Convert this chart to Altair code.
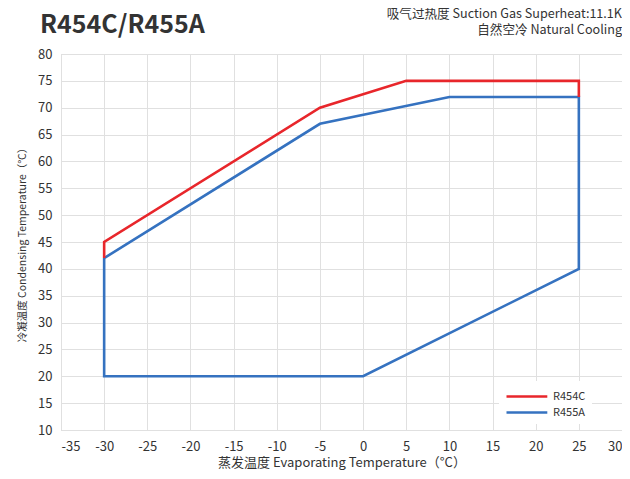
import altair as alt
import pandas as pd

series_names = ["R454C", "R455A"]
colors = ["#e8262b", "#3572c0"]

r454c_x = [-30, -30, -5, 5, 25, 25]
r454c_y = [42, 45, 70, 75, 75, 72]

r455a_x = [-30, -5, 10, 25, 25, 0, -30, -30]
r455a_y = [42, 67, 72, 72, 40, 20, 20, 42]

x_ticks = list(range(-35, 31, 5))
y_ticks = list(range(10, 81, 5))

main_title = "R454C/R455A"
note_lines = ["吸气过热度 Suction Gas Superheat:11.1K", "自然空冷  Natural Cooling"]

rows = []
for i, (x, y) in enumerate(zip(r455a_x, r455a_y)):
    rows.append({"series": "R455A", "x": x, "y": y, "o": i})
for i, (x, y) in enumerate(zip(r454c_x, r454c_y)):
    rows.append({"series": "R454C", "x": x, "y": y, "o": i})
df = pd.DataFrame(rows)

FONT = "Noto Sans CJK SC"

lines = alt.Chart(df).mark_line(strokeWidth=2.6, strokeJoin="miter").encode(
    x=alt.X("x:Q", scale=alt.Scale(domain=[-35, 30], nice=False),
            axis=alt.Axis(values=x_ticks, title="蒸发温度 Evaporating Temperature（°C）",
                          grid=True, domain=False, ticks=False, labelPadding=10,
                          labelExpr="datum.value + ''", titlePadding=3, titleFontSize=13)),
    y=alt.Y("y:Q", scale=alt.Scale(domain=[10, 80], nice=False),
            axis=alt.Axis(values=y_ticks, title="冷凝温度 Condensing Temperature（°C）",
                          grid=True, domain=False, ticks=False, labelPadding=9,
                          labelExpr="datum.value + ''",
                          titlePadding=10, titleFontSize=10.5)),
    color=alt.Color("series:N", scale=alt.Scale(domain=series_names, range=colors),
                    legend=alt.Legend(title=None, orient="none", legendX=438, legendY=327,
                                      symbolType="M-1,0H4.1", symbolSize=256, symbolStrokeWidth=2.5,
                                      fillColor="white", padding=6, labelFontSize=11,
                                      labelOffset=29, labelColor="#333", labelFont=FONT,
                                      rowPadding=1)),
    order="o:Q",
    detail="series:N",
)

note = alt.Chart(pd.DataFrame({"t": [note_lines]})).mark_text(
    align="right", baseline="top", fontSize=12.6, font=FONT, color="#333", lineHeight=16
).encode(text="t", x=alt.value(561), y=alt.value(-46))

title = alt.Chart(pd.DataFrame({"t": [main_title]})).mark_text(
    align="left", baseline="alphabetic", fontSize=25, fontWeight="bold", font=FONT, color="#333"
).encode(text="t", x=alt.value(-21), y=alt.value(-21))

chart = alt.layer(lines, note, title).properties(
    width=561, height=376,
    autosize=alt.AutoSizeParams(type="none"),
    padding={"left": 53, "top": 46, "right": 0, "bottom": 41},
).configure_view(stroke="#cccccc", strokeWidth=1).configure_axis(
    gridColor="#e0e0e0", gridWidth=1, labelFontSize=13, labelColor="#333",
    labelFont=FONT, titleFont=FONT, titleColor="#333", titleFontWeight="normal",
    titleFontSize=12,
)

chart.save("out.html", embed_options={"renderer": "svg", "actions": False})
